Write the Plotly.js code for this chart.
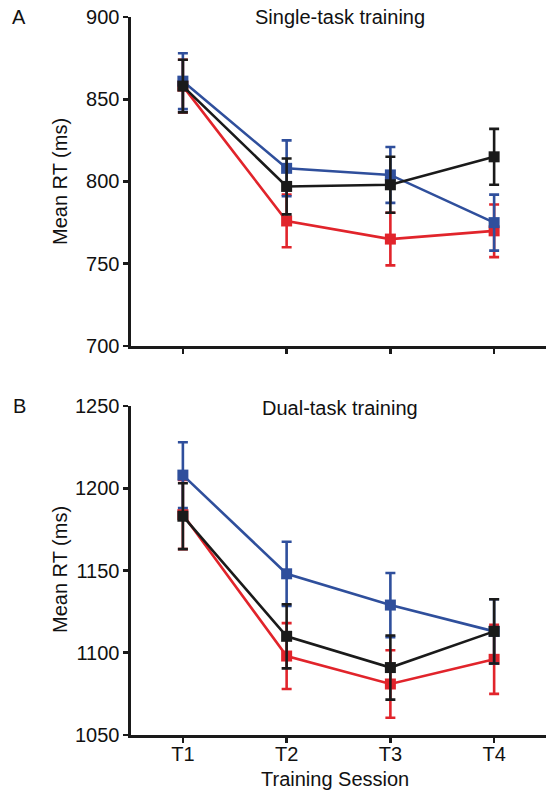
<!DOCTYPE html>
<html>
<head>
<meta charset="utf-8">
<script src="https://cdn.plot.ly/plotly-3.0.1.min.js"></script>
<style>html,body{margin:0;padding:0;background:#fff;}#chart{width:546px;height:794px;}</style>
</head>
<body>
<div id="chart"></div>
<script>
// Categories
const sessions = ['T1', 'T2', 'T3', 'T4'];

// Panel A: Single-task training (mean RT, ms) and error bar half-widths
const singleRed = [858, 776, 765, 770];
const singleRedErr = [16, 16, 16, 16];
const singleBlue = [861, 808, 804, 775];
const singleBlueErr = [17, 17, 17, 17];
const singleBlack = [858, 797, 798, 815];
const singleBlackErr = [16, 17, 17, 17];

// Panel B: Dual-task training
const dualRed = [1184, 1098, 1081, 1096];
const dualRedErr = [21, 20, 20.5, 21];
const dualBlue = [1208, 1148, 1129, 1113];
const dualBlueErr = [20, 19.5, 19.5, 19.5];
const dualBlack = [1183, 1110, 1091, 1113];
const dualBlackErr = [20, 19.5, 19.5, 19.5];

const RED = '#e1242b', BLUE = '#2f4f9c', BLACK = '#1a1a1a';

function tr(y, err, color, xa, ya) {
  return {
    x: sessions, y: y, xaxis: xa, yaxis: ya,
    type: 'scatter', mode: 'lines+markers',
    line: {color: color, width: 2.6},
    marker: {symbol: 'square', size: 11, color: color},
    error_y: {type: 'data', array: err, visible: true, color: color, thickness: 2.6, width: 5},
    showlegend: false, hoverinfo: 'none'
  };
}

const data = [
  tr(singleRed, singleRedErr, RED, 'x2', 'y'),
  tr(singleBlue, singleBlueErr, BLUE, 'x2', 'y'),
  tr(singleBlack, singleBlackErr, BLACK, 'x2', 'y'),
  tr(dualRed, dualRedErr, RED, 'x', 'y2'),
  tr(dualBlue, dualBlueErr, BLUE, 'x', 'y2'),
  tr(dualBlack, dualBlackErr, BLACK, 'x', 'y2')
];

const FONT = 'Liberation Sans, Arial, Helvetica, sans-serif';
const axisCommon = {
  showline: true, linecolor: BLACK, linewidth: 2.6,
  ticks: 'outside', ticklen: 5, tickwidth: 2.6, tickcolor: BLACK,
  showgrid: false, zeroline: false,
  tickfont: {family: FONT, size: 20, color: '#111'}
};

// pixel helpers for annotation placement
const L = 131, W = 415, B = 735, H = 718;
const px = v => (v - L) / W;
const py = v => (B - v) / H;

function ann(text, x, y, size, angle) {
  return {text: text, xref: 'paper', yref: 'paper', x: px(x), y: py(y),
    xanchor: 'center', yanchor: 'middle', showarrow: false, textangle: angle || 0,
    font: {family: FONT, size: size, color: '#111'}};
}

const layout = {
  width: 546, height: 794,
  margin: {l: 131, r: 0, t: 17, b: 59},
  paper_bgcolor: '#fff', plot_bgcolor: '#fff',
  font: {family: FONT, color: '#111'},
  xaxis: Object.assign({}, axisCommon, {type: 'category', range: [-0.5, 3.5], anchor: 'y2', domain: [0, 1], ticklabelstandoff: -6}),
  xaxis2: Object.assign({}, axisCommon, {type: 'category', range: [-0.5, 3.5], anchor: 'y', domain: [0, 1], showticklabels: false}),
  yaxis: Object.assign({}, axisCommon, {range: [700, 900], dtick: 50, domain: [0.5418, 1], anchor: 'x2'}),
  yaxis2: Object.assign({}, axisCommon, {range: [1050, 1250], dtick: 50, domain: [0, 0.4582], anchor: 'x'}),
  annotations: [
    ann('Single-task training', 340, 17, 20),
    ann('Dual-task training', 340, 408, 20),
    ann('A', 19, 17, 20),
    ann('B', 19, 406, 20),
    ann('Mean RT (ms)', 60, 182, 20, -90),
    ann('Mean RT (ms)', 60, 570, 20, -90),
    ann('Training Session', 335, 779, 20)
  ]
};

Plotly.newPlot('chart', data, layout, {staticPlot: true, displayModeBar: false});
</script>
</body>
</html>
